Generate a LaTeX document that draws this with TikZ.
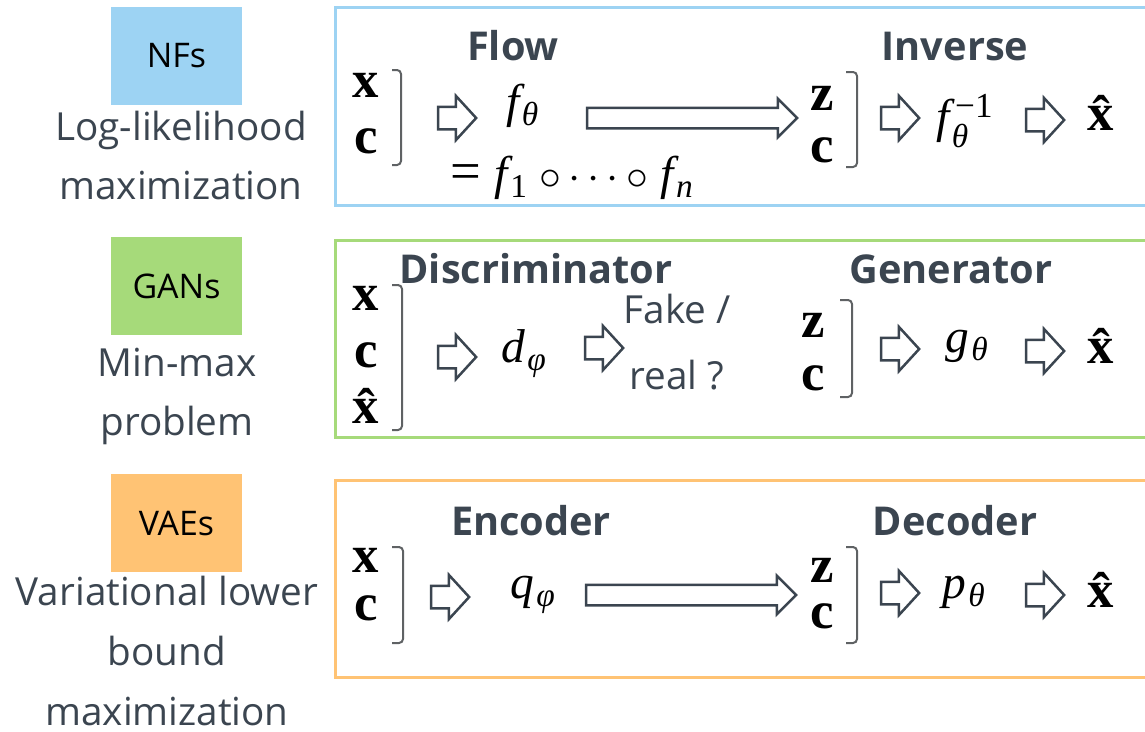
\documentclass[tikz,border=0pt]{standalone}
\usepackage{fontspec}
\setmainfont{Open Sans}
\newfontfamily\tmsfont{Liberation Serif}
\usetikzlibrary{shapes.arrows}

\definecolor{nfblue}{HTML}{9DD3F3}
\definecolor{gangreen}{HTML}{A6DA7A}
\definecolor{vaeorange}{HTML}{FFC374}
\definecolor{slate}{HTML}{3B4550}
\definecolor{bracketgrey}{HTML}{5F6264}

\newcommand{\lowidx}[2][0.18em]{\kern0.05em\raisebox{-#1}{\fontsize{19}{19}\selectfont #2}}
\newcommand{\highidx}[1]{\raisebox{0.3em}{\fontsize{20}{20}\selectfont #1}}

\begin{document}
\begin{tikzpicture}[x=0.2mm, y=-0.2mm,
  modeltag/.style={fill=#1, minimum width=26.2mm, minimum height=19.6mm, inner sep=0pt, font=\fontsize{19.3}{23}\selectfont},
  goal/.style={align=center, anchor=north, inner sep=0pt, text=slate, font=\fontsize{22}{33.5}\selectfont},
  heading/.style={anchor=base, inner sep=0pt, text=slate, font=\fontsize{22.6}{26}\selectfont\bfseries},
  sym/.style={anchor=base west, inner sep=0pt, font={\tmsfont\fontsize{27}{30}\selectfont\itshape}},
  vec/.style={anchor=base, inner sep=0pt, font={\tmsfont\fontsize{30}{32}\selectfont\bfseries}},
  hollow/.style={single arrow, draw=slate, line width=0.5mm, inner xsep=0pt, inner ysep=2mm,
    single arrow head extend=2.2mm, single arrow tip angle=95, minimum height=7.6mm},
  longhollow/.style={hollow, inner ysep=1.8mm, single arrow head extend=1.8mm,
    single arrow tip angle=90, minimum height=42mm},
  brack/.style={draw=bracketgrey, line width=0.4mm, rounded corners=0.8mm}]

\clip (0,0) rectangle (1145,731);

% normalizing flows
\node[modeltag=nfblue] (nftag) at (176.5,56) {NFs};
\node[goal] (nfgoal) at (181,111) {Log-likelihood\\maximization};
\draw[draw=nfblue, line width=0.6mm] (335,7) rectangle (1160,205);
\node[heading] (flowhd) at (513,60) {Flow};
\node[heading] (invhd) at (955,60) {Inverse};

\node[vec] (nfx) at (366,97) {x};
\node[vec] (nfc) at (366,153) {c};
\draw[brack] (392,70) -- (401,70) -- (401,165) -- (392,165);
\node[hollow] (nfa1) at (452,118) {};
\node[sym] (flow) at (506,117) {f\lowidx{θ}};
\node[sym] (comp) at (450,189) {\upshape\fontsize{31}{31}\selectfont =\kern0.25em\fontsize{27}{30}\selectfont\itshape f\lowidx{\upshape 1}\(\;\circ\cdots\circ\;\)f\lowidx{n}};
\node[longhollow] (nflong) at (687,118) {};
\node[vec] (nfz) at (822,110) {z};
\node[vec] (nfc2) at (822,162) {c};
\draw[brack] (846,72) -- (857,72) -- (857,167) -- (846,167);
\node[hollow] (nfa2) at (895,118) {};
\node[sym] (inv) at (936,132) {f\rlap{\kern0.12em\highidx{\upshape −1}}\lowidx[0.33em]{θ}};
\node[hollow] (nfa3) at (1040,120) {};
\node[vec] (nfout) at (1101,130) {\^x};

% generative adversarial networks
\node[modeltag=gangreen] (gantag) at (176.5,286) {GANs};
\node[goal] (gangoal) at (177,348) {Min-max\\problem};
\draw[draw=gangreen, line width=0.6mm] (335,240) rectangle (1160,437);
\node[heading] (dischd) at (536,283) {Discriminator};
\node[heading] (genhd) at (951,283) {Generator};

\node[vec] (ganx) at (366,310) {x};
\node[vec] (ganc) at (366,367) {c};
\node[vec] (ganxh) at (366,423) {\^x};
\draw[brack] (392,285) -- (402,285) -- (402,430) -- (392,430);
\node[hollow] (gana1) at (452,357) {};
\node[sym] (disc) at (501,362) {d\lowidx{φ}};
\node[hollow] (gana2) at (599,348) {};
\node[goal, font=\fontsize{22}{37.5}\selectfont] (verdict) at (677,294) {Fake /\\real ?};
\node[vec] (ganz) at (813,337) {z};
\node[vec] (ganc2) at (813,390) {c};
\draw[brack] (840,300) -- (852,300) -- (852,397) -- (840,397);
\node[hollow] (gana3) at (895,349) {};
\node[sym] (gen) at (945,352) {g\lowidx{θ}};
\node[hollow] (gana4) at (1040,351) {};
\node[vec] (ganout) at (1101,363) {\^x};

% variational autoencoders
\node[modeltag=vaeorange] (vaetag) at (176.5,523) {VAEs};
\node[goal, font=\fontsize{22}{34}\selectfont] (vaegoal) at (167,576) {Variational lower\\bound\\maximization};
\draw[draw=vaeorange, line width=0.6mm] (335,480) rectangle (1160,677);
\node[heading] (enchd) at (531,535) {Encoder};
\node[heading] (dechd) at (955,535) {Decoder};

\node[vec] (vaex) at (366,572) {x};
\node[vec] (vaec) at (366,620) {c};
\draw[brack] (392,547) -- (403,547) -- (403,643) -- (392,643);
\node[hollow] (vaea1) at (445,597) {};
\node[sym] (enc) at (510,598) {q\lowidx{φ}};
\node[longhollow] (vaelong) at (686,595) {};
\node[vec] (vaez) at (822,582) {z};
\node[vec] (vaec2) at (822,628) {c};
\draw[brack] (846,547) -- (857,547) -- (857,643) -- (846,643);
\node[hollow] (vaea2) at (895,593) {};
\node[sym] (dec) at (942,598) {p\lowidx{θ}};
\node[hollow] (vaea3) at (1040,595) {};
\node[vec] (vaeout) at (1101,607) {\^x};
\end{tikzpicture}
\end{document}
